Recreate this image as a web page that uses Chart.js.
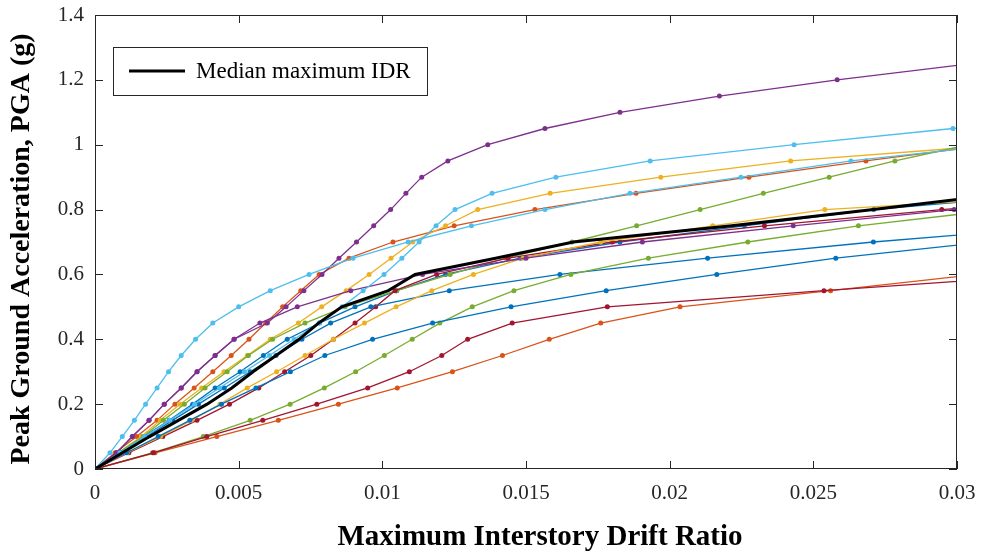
<!DOCTYPE html>
<html>
<head>
<meta charset="utf-8">
<script src="https://cdn.jsdelivr.net/npm/chart.js@4.4.1/dist/chart.umd.min.js"></script>
<style>
  html, body { margin: 0; padding: 0; background: #ffffff; }
  #idaChart { display: block; }
</style>
</head>
<body>
<canvas id="idaChart" width="982" height="554"></canvas>
<script>
// PGA intensity levels of the incremental dynamic analysis (g)
const pgaLevels = [0, 0.05, 0.1, 0.15, 0.2, 0.25, 0.3, 0.35, 0.4, 0.45, 0.5, 0.55, 0.6,
    0.65, 0.7, 0.75, 0.8, 0.85, 0.9, 0.95, 1.0, 1.05, 1.1, 1.15, 1.2, 1.25];

// maximum interstory drift ratio per record, one value per PGA level
const idrGm01 = [0, 0.00085, 0.0017, 0.00258, 0.0034, 0.00418, 0.00505, 0.00586, 0.00669, 0.00781, 0.00905, 0.0105, 0.0122, 0.0148, 0.01827, 0.0226, 0.0271, 0.0335];
const idrGm02 = [0, 0.0007, 0.00145, 0.00216, 0.00278, 0.00345, 0.0041, 0.00474, 0.00536, 0.00594, 0.00653, 0.00716, 0.0078, 0.00884, 0.01037, 0.0125, 0.01531, 0.01883, 0.02276, 0.02683, 0.0312];
const idrGm03 = [0, 0.0008, 0.00162, 0.00227, 0.00296, 0.00371, 0.00449, 0.0053, 0.0061, 0.00708, 0.00789, 0.00874, 0.00954, 0.0103, 0.01106, 0.0122, 0.01332, 0.01584, 0.01969, 0.02421, 0.0316];
const idrGm04 = [0, 0.00075, 0.0013, 0.00188, 0.00241, 0.003, 0.00355, 0.00418, 0.00484, 0.006, 0.00665, 0.00727, 0.0079, 0.00849, 0.0091, 0.0097, 0.01029, 0.01082, 0.01137, 0.01228, 0.01367, 0.01566, 0.01827, 0.02173, 0.02583, 0.0305];
const idrGm05 = [0, 0.0008, 0.00168, 0.00238, 0.00311, 0.00383, 0.0046, 0.00534, 0.00618, 0.00731, 0.0087, 0.0105, 0.01236, 0.0143, 0.0166, 0.01885, 0.02106, 0.02326, 0.02555, 0.02784, 0.0304];
const idrGm06 = [0, 0.00052, 0.00095, 0.00137, 0.00176, 0.00216, 0.00256, 0.003, 0.0035, 0.0041, 0.005, 0.0061, 0.00745, 0.00898, 0.0109, 0.0131, 0.01566, 0.01862, 0.02248, 0.02631, 0.0315];
const idrGm07 = [0, 0.00118, 0.00236, 0.00355, 0.00468, 0.0057, 0.0066, 0.00751, 0.0083, 0.00905, 0.00977, 0.01044, 0.01189, 0.01438, 0.018, 0.0233, 0.02947, 0.037];
const idrGm08 = [0, 0.0009, 0.0018, 0.0027, 0.0036, 0.0045, 0.0054, 0.0063, 0.0072, 0.0082, 0.0096, 0.01233, 0.01618, 0.02132, 0.02709, 0.034];
const idrGm09 = [0, 0.00209, 0.00424, 0.00638, 0.00847, 0.01052, 0.01244, 0.01418, 0.01581, 0.0176, 0.02036, 0.0256, 0.0307];
const idrGm10 = [0, 0.00112, 0.00228, 0.00336, 0.00435, 0.0053, 0.00632, 0.00731, 0.0083, 0.00938, 0.01048, 0.01172, 0.01317, 0.0149, 0.0176, 0.0215, 0.0254, 0.035];
const idrGm11 = [0, 0.00075, 0.0013, 0.00188, 0.00241, 0.003, 0.00355, 0.00418, 0.00484, 0.00574, 0.00704, 0.0089, 0.0114, 0.015, 0.01905, 0.0243, 0.0299, 0.036];
const idrGm12 = [0, 0.002, 0.00377, 0.0054, 0.00679, 0.00798, 0.00907, 0.01007, 0.01104, 0.012, 0.01313, 0.01458, 0.01656, 0.01926, 0.02272, 0.02657, 0.0315];
const idrGm13 = [0, 0.00087, 0.00173, 0.0026, 0.00347, 0.00433, 0.0052, 0.00607, 0.00693, 0.0078, 0.0086, 0.00933, 0.01006, 0.01068, 0.01128, 0.01187, 0.01253, 0.01382, 0.01604, 0.01932, 0.02433, 0.02986, 0.036];
const idrGm14 = [0, 0.00203, 0.00389, 0.00584, 0.00772, 0.00949, 0.01094, 0.01207, 0.01297, 0.01452, 0.01783, 0.02537, 0.0335];
const idrGm15 = [0, 0.0011, 0.0022, 0.0033, 0.0044, 0.0056, 0.0068, 0.008, 0.00966, 0.01175, 0.01448, 0.01779, 0.02164, 0.02578, 0.031];
const idrMedian = [0, 0.00095, 0.0019, 0.0029, 0.0039, 0.00476, 0.0055, 0.0063, 0.0071, 0.00778, 0.00859, 0.01021, 0.01114, 0.01394, 0.01665, 0.02216, 0.02709, 0.0318];

const records = [idrGm01, idrGm02, idrGm03, idrGm04, idrGm05, idrGm06, idrGm07, idrGm08,
    idrGm09, idrGm10, idrGm11, idrGm12, idrGm13, idrGm14, idrGm15];

const xTicks = [0, 0.005, 0.01, 0.015, 0.02, 0.025, 0.03];
const yTicks = [0, 0.2, 0.4, 0.6, 0.8, 1, 1.2, 1.4];
const legendLabel = 'Median maximum IDR';
const xTitle = 'Maximum Interstory Drift Ratio';
const yTitle = 'Peak Ground Acceleration, PGA (g)';

// default line colour order, cycled over the records
const colorOrder = ['#0072BD', '#D95319', '#EDB120', '#7E2F8E', '#77AC30', '#4DBEEE', '#A2142F'];

const serif = "'Times New Roman', 'Liberation Serif', serif";
const axisColor = '#262626';

function toPoints(idr) {
    return idr.map((v, i) => ({ x: v, y: pgaLevels[i] }));
}

const datasets = records.map((idr, i) => ({
    label: 'GM ' + (i + 1),
    data: toPoints(idr),
    borderColor: colorOrder[i % colorOrder.length],
    backgroundColor: colorOrder[i % colorOrder.length],
    borderWidth: 1.3,
    pointRadius: 2.5,
    pointBorderWidth: 0,
    pointHoverRadius: 2.5,
    showLine: true,
    clip: 0,
    order: 100 - i
}));

datasets.push({
    label: legendLabel,
    data: toPoints(idrMedian),
    borderColor: '#000000',
    backgroundColor: '#000000',
    borderWidth: 3,
    pointRadius: 0,
    showLine: true,
    clip: 0,
    order: 0
});

// box, inward tick marks, legend and axis labels, drawn like a MATLAB axes
const axesFrame = {
    id: 'axesFrame',
    afterDatasetsDraw(chart) {
        const { ctx, chartArea: a, scales: { x, y } } = chart;
        const len = 8;
        ctx.save();
        ctx.strokeStyle = axisColor;
        ctx.lineWidth = 1;
        ctx.beginPath();
        xTicks.forEach(t => {
            const px = Math.round(x.getPixelForValue(t)) + 0.5;
            ctx.moveTo(px, a.bottom); ctx.lineTo(px, a.bottom - len);
            ctx.moveTo(px, a.top); ctx.lineTo(px, a.top + len);
        });
        yTicks.forEach(t => {
            const py = Math.round(y.getPixelForValue(t)) + 0.5;
            ctx.moveTo(a.left, py); ctx.lineTo(a.left + len, py);
            ctx.moveTo(a.right, py); ctx.lineTo(a.right - len, py);
        });
        ctx.stroke();
        ctx.strokeRect(Math.round(a.left) + 0.5, Math.round(a.top) + 0.5,
            Math.round(a.width) - 1, Math.round(a.height) - 1);

        // legend
        const lx = a.left + 18, ly = a.top + 32, lw = 314, lh = 48;
        ctx.fillStyle = '#ffffff';
        ctx.fillRect(lx, ly, lw, lh);
        ctx.strokeStyle = axisColor;
        ctx.strokeRect(lx + 0.5, ly + 0.5, lw, lh);
        ctx.strokeStyle = '#000000';
        ctx.lineWidth = 3;
        ctx.beginPath();
        ctx.moveTo(lx + 16, ly + lh / 2);
        ctx.lineTo(lx + 72, ly + lh / 2);
        ctx.stroke();
        ctx.fillStyle = '#000000';
        ctx.font = '23px ' + serif;
        ctx.textBaseline = 'middle';
        ctx.fillText(legendLabel, lx + 83, ly + lh / 2 + 1);

        // axis labels, centred slightly off the axes middle
        ctx.font = 'bold 29px ' + serif;
        ctx.textAlign = 'center';
        ctx.fillText(xTitle, (a.left + a.right) / 2 + 14, 538);
        ctx.font = 'bold 28px ' + serif;
        ctx.translate(22, (a.top + a.bottom) / 2 + 7);
        ctx.rotate(-Math.PI / 2);
        ctx.fillText(yTitle, 0, 0);
        ctx.restore();
    }
};

new Chart(document.getElementById('idaChart'), {
    type: 'scatter',
    data: { datasets },
    options: {
        responsive: false,
        animation: false,
        events: [],
        layout: { padding: { left: 0, top: 15, right: 25, bottom: 0 } },
        plugins: {
            legend: { display: false },
            tooltip: { enabled: false }
        },
        scales: {
            x: {
                type: 'linear',
                min: 0,
                max: 0.03,
                afterFit(scale) {
                    scale.height = 85;
                    scale.paddingLeft = 0;
                    scale.paddingRight = 0;
                },
                afterBuildTicks(scale) { scale.ticks = xTicks.map(v => ({ value: v })); },
                grid: { display: false },
                border: { display: false },
                ticks: {
                    padding: 4,
                    color: axisColor,
                    font: { family: serif, size: 21 },
                    maxRotation: 0,
                    callback: v => String(v)
                },
                title: { display: false }
            },
            y: {
                type: 'linear',
                min: 0,
                max: 1.4,
                afterFit(scale) {
                    scale.width = 95;
                    scale.paddingTop = 0;
                    scale.paddingBottom = 0;
                },
                afterBuildTicks(scale) { scale.ticks = yTicks.map(v => ({ value: v })); },
                grid: { display: false },
                border: { display: false },
                ticks: {
                    padding: 3,
                    color: axisColor,
                    font: { family: serif, size: 21 },
                    callback: v => String(v)
                },
                title: { display: false }
            }
        }
    },
    plugins: [axesFrame]
});
</script>
</body>
</html>
